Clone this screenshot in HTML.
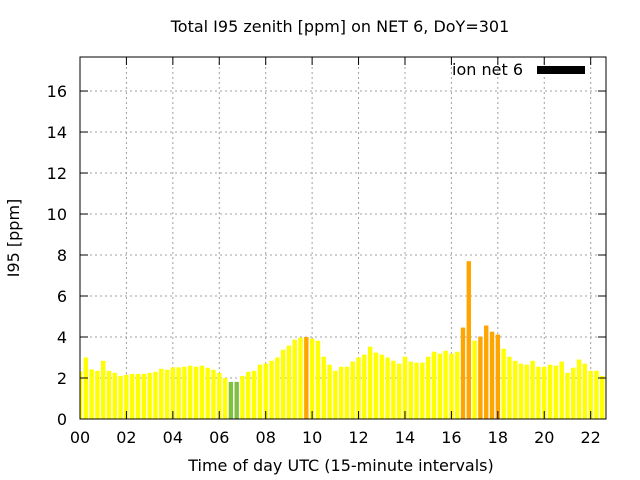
<!DOCTYPE html>
<html><head><meta charset="utf-8"><style>
body{margin:0;background:#fff;}
svg{display:block;font-family:"DejaVu Sans","Liberation Sans",sans-serif;}
</style></head><body>
<svg id="chart" width="640" height="480">
<text x="340" y="32" text-anchor="middle" font-size="16">Total I95 zenith [ppm] on NET 6, DoY=301</text>
<text x="19" y="238" text-anchor="middle" font-size="16" transform="rotate(-90 19 238)">I95 [ppm]</text>
<text x="341" y="471" text-anchor="middle" font-size="16">Time of day UTC (15-minute intervals)</text>
<g id="grid"></g><g id="bars"></g><g id="axes"></g>
<g>
<text x="523" y="75" text-anchor="end" font-size="16">ion net 6</text>
<rect x="537" y="66" width="48" height="8" fill="#000"/>
</g>
</svg>
<script>
const values=[2.32,3.0,2.42,2.35,2.84,2.35,2.25,2.1,2.16,2.2,2.2,2.2,2.25,2.3,2.45,2.4,2.52,2.52,2.55,2.6,2.55,2.6,2.5,2.4,2.25,2.0,1.81,1.81,2.1,2.3,2.35,2.65,2.7,2.84,3.0,3.38,3.58,3.87,3.97,4.0,3.92,3.82,3.04,2.65,2.35,2.55,2.55,2.8,3.0,3.14,3.53,3.24,3.14,3.0,2.84,2.7,3.04,2.8,2.75,2.75,3.04,3.28,3.19,3.33,3.19,3.28,4.46,7.7,3.82,4.02,4.56,4.26,4.12,3.43,3.04,2.84,2.7,2.65,2.84,2.55,2.55,2.65,2.6,2.8,2.25,2.5,2.9,2.7,2.35,2.35,2.1];
const yTicks=[0,2,4,6,8,10,12,14,16];
const xTicks=[0,2,4,6,8,10,12,14,16,18,20,22];
const xTickLabels=["00","02","04","06","08","10","12","14","16","18","20","22"];
const L=80,R=606,T=57,B=419,yMax=17.66,xMax=22.66;
const X=h=>L+h/xMax*(R-L);
const Y=v=>B-v/yMax*(B-T);
const NS="http://www.w3.org/2000/svg";
function mk(tag,attrs,parent){const e=document.createElementNS(NS,tag);for(const k in attrs)e.setAttribute(k,attrs[k]);parent.appendChild(e);return e;}
const grid=document.getElementById('grid'),bars=document.getElementById('bars'),axes=document.getElementById('axes');
yTicks.forEach(v=>{
 if(v>0){const g=mk('line',{x1:L,x2:R,y1:Y(v),y2:Y(v),stroke:'#a0a0a0','stroke-dasharray':'2,3'},grid);
 
 }
 const t1=mk('line',{x1:L,x2:L+8,y1:Y(v),y2:Y(v),stroke:'#000'},axes);
 
 
 const t2=mk('line',{x1:R-8,x2:R,y1:Y(v),y2:Y(v),stroke:'#000'},axes);
 
 
 const tx=mk('text',{x:L-13,y:Y(v)+6,'text-anchor':'end','font-size':'16'},axes);tx.textContent=v;
 
 
});
xTicks.forEach((h,i)=>{
 if(h>0){const g=mk('line',{x1:X(h),x2:X(h),y1:T,y2:B,stroke:'#a0a0a0','stroke-dasharray':'2,3'},grid);
 
 }
 const t1=mk('line',{x1:X(h),x2:X(h),y1:B,y2:B-8,stroke:'#000'},axes);
 
 
 const t2=mk('line',{x1:X(h),x2:X(h),y1:T,y2:T+8,stroke:'#000'},axes);
 
 
 const tx=mk('text',{x:X(h),y:B+24,'text-anchor':'middle','font-size':'16'},axes);tx.textContent=xTickLabels[i];
 
 
});
const bw=4.4;
values.forEach((v,i)=>{
 const h=i*0.25;let x0=X(h)-bw/2,x1=X(h)+bw/2;if(x0<L)x0=L;
 const col=v>=4?'#ffa500':(v<1.9?'#80c040':'#ffff00');
 const r=mk('rect',{x:x0,y:Y(v),width:x1-x0,height:B-Y(v),fill:col},bars);
 
 
});
const fr=mk('rect',{x:L,y:T,width:R-L,height:B-T,fill:'none',stroke:'#000'},axes);


</script>
</body></html>
